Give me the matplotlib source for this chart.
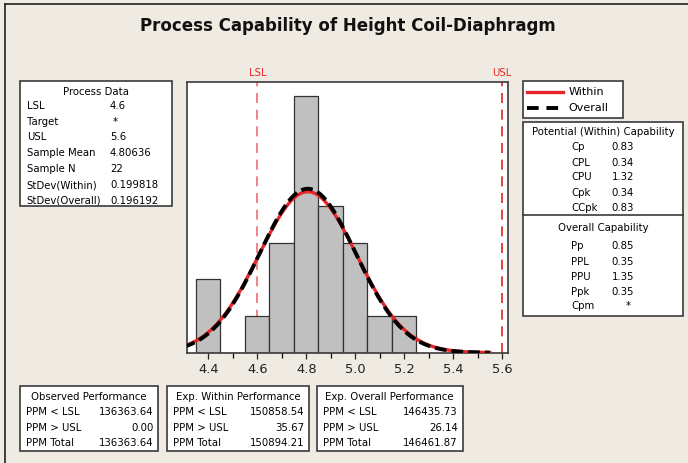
import numpy as np
import matplotlib
matplotlib.use("Agg")
import matplotlib.pyplot as plt
from matplotlib.patches import Rectangle
from matplotlib.lines import Line2D

# data
bin_centers = [4.4, 4.5, 4.6, 4.7, 4.8, 4.9, 5.0, 5.1, 5.2]
counts = [2, 0, 1, 3, 7, 4, 3, 1, 1]
bin_width = 0.1
lsl, usl = 4.6, 5.6
sample_mean = 4.80636
sample_n = 22
sd_within = 0.199818
sd_overall = 0.196192

process_labels = ["LSL", "Target", "USL", "Sample Mean", "Sample N", "StDev(Within)", "StDev(Overall)"]
process_values = ["4.6", "*", "5.6", "4.80636", "22", "0.199818", "0.196192"]

within_labels = ["Cp", "CPL", "CPU", "Cpk", "CCpk"]
within_values = ["0.83", "0.34", "1.32", "0.34", "0.83"]
overall_labels = ["Pp", "PPL", "PPU", "Ppk", "Cpm"]
overall_values = ["0.85", "0.35", "1.35", "0.35", "*"]

perf_titles = ["Observed Performance", "Exp. Within Performance", "Exp. Overall Performance"]
perf_labels = ["PPM < LSL", "PPM > USL", "PPM Total"]
perf_values = [["136363.64", "0.00", "136363.64"],
               ["150858.54", "35.67", "150894.21"],
               ["146435.73", "26.14", "146461.87"]]

W, H = 688, 463
BG = "#EFEBE2"
EDGE = "#3a3a3a"
FS = 7.3
OVERALL_DASH = (0, (3, 1.3))

fig = plt.figure(figsize=(W / 100, H / 100), dpi=100)
fig.patch.set_facecolor(BG)


def fx(x):
    return x / W


def fy(y):
    return 1 - y / H


def box(x0, y0, x1, y1):
    fig.add_artist(Rectangle((fx(x0), fy(y1)), fx(x1) - fx(x0), fy(y0) - fy(y1),
                             transform=fig.transFigure, fc="white", ec=EDGE, lw=1.2))


def txt(x, y, s, ha="left", **kw):
    kw.setdefault("fontsize", FS)
    fig.text(fx(x), fy(y), s, ha=ha, va="center", **kw)


# outer frame (left and top only, image is cropped)
fig.add_artist(Line2D([fx(5), fx(5)], [fy(4), 0], transform=fig.transFigure, color="#222222", lw=1.2))
fig.add_artist(Line2D([fx(5), 1], [fy(4), fy(4)], transform=fig.transFigure, color="#222222", lw=1.2))

txt(348, 26, "Process Capability of Height Coil-Diaphragm", ha="center",
    fontsize=12, fontweight="bold", color="#111111")

# histogram
x0, x1, y0, y1 = 186.7, 508, 81.5, 352.7
ax = fig.add_axes([fx(x0), fy(y1), fx(x1) - fx(x0), fy(y0) - fy(y1)])
ax.bar(bin_centers, counts, width=bin_width, color="#C0C0C0", edgecolor="#333333", linewidth=0.9, zorder=2)

# fitted normal curves from the reported mean / stdev
xs = np.linspace(4.30, 5.55, 300)
scale = sample_n * bin_width
pdf_w = scale * np.exp(-0.5 * ((xs - sample_mean) / sd_within) ** 2) / (sd_within * np.sqrt(2 * np.pi))
pdf_o = scale * np.exp(-0.5 * ((xs - sample_mean) / sd_overall) ** 2) / (sd_overall * np.sqrt(2 * np.pi))
ax.plot(xs, pdf_w, color="#E8262A", lw=2.4, zorder=3)
ax.plot(xs, pdf_o, color="black", lw=2.8, ls=OVERALL_DASH, zorder=4)

ax.axvline(lsl, color="#F07070", lw=1.2, ls=(0, (6, 4)), zorder=1)
ax.axvline(usl, color="#E52222", lw=1.2, ls=(0, (6, 4)), zorder=1)

ax.set_xlim(4.312, 5.624)
ax.set_ylim(0, 7.40)
ax.set_yticks([])
ax.set_xticks([4.4, 4.6, 4.8, 5.0, 5.2, 5.4, 5.6])
ax.set_xticklabels(["4.4", "4.6", "4.8", "5.0", "5.2", "5.4", "5.6"])
ax.set_xticks(np.arange(4.5, 5.6, 0.2), minor=True)
ax.tick_params(axis="x", which="major", length=4.5, width=0.9, labelsize=9.4, pad=3, colors="#222222")
ax.tick_params(axis="x", which="minor", length=3.5, width=0.9)
for sp in ax.spines.values():
    sp.set_color(EDGE)
    sp.set_linewidth(1.2)

txt(257.5, 73, "LSL", ha="center", color="#E8262A")
txt(502, 73, "USL", ha="center", color="#E8262A")

# process data box
box(20, 81, 172, 205.7)
txt(96, 91.7, "Process Data", ha="center")
row_y = [106, 121.7, 137.5, 153.3, 169, 185, 200.5]
for yy, lab, val in zip(row_y, process_labels, process_values):
    txt(26.7, yy, lab)
    txt(110 if val != "*" else 113, yy, val)

# legend
box(523.3, 81, 623.3, 118.3)
fig.add_artist(Line2D([fx(526.7), fx(563.3)], [fy(91.7), fy(91.7)], transform=fig.transFigure,
                      color="#E8262A", lw=2.4))
fig.add_artist(Line2D([fx(526.7), fx(563.3)], [fy(107.7), fy(107.7)], transform=fig.transFigure,
                      color="black", lw=2.8, ls=(0, (3, 2))))
txt(568.3, 91.7, "Within", fontsize=8)
txt(568.3, 107.7, "Overall", fontsize=8)

# capability box
box(523.3, 122.3, 682.7, 315.7)
fig.add_artist(Line2D([fx(523.3), fx(682.7)], [fy(215), fy(215)], transform=fig.transFigure, color=EDGE, lw=1.2))
txt(603, 132.3, "Potential (Within) Capability", ha="center")
for yy, lab, val in zip([146.7, 162.5, 177.5, 193, 208], within_labels, within_values):
    txt(571, yy, lab)
    txt(611.7, yy, val)
txt(603, 228, "Overall Capability", ha="center")
for yy, lab, val in zip([246.3, 261.7, 276.7, 292.3, 306], overall_labels, overall_values):
    txt(571, yy, lab)
    txt(611.7 if val != "*" else 628, yy, val, ha="left" if val != "*" else "center")

# performance boxes
boxes = [(20, 158), (166.7, 309), (316.7, 462.5)]
for (bx0, bx1), title, vals in zip(boxes, perf_titles, perf_values):
    box(bx0, 385.5, bx1, 451)
    txt((bx0 + bx1) / 2, 396.7, title, ha="center")
    for yy, lab, val in zip([412.3, 428, 443.3], perf_labels, vals):
        txt(bx0 + 6.5, yy, lab)
        txt(bx1 - 4.5, yy, val, ha="right")

fig.savefig("out.png", dpi=100, facecolor=BG)
